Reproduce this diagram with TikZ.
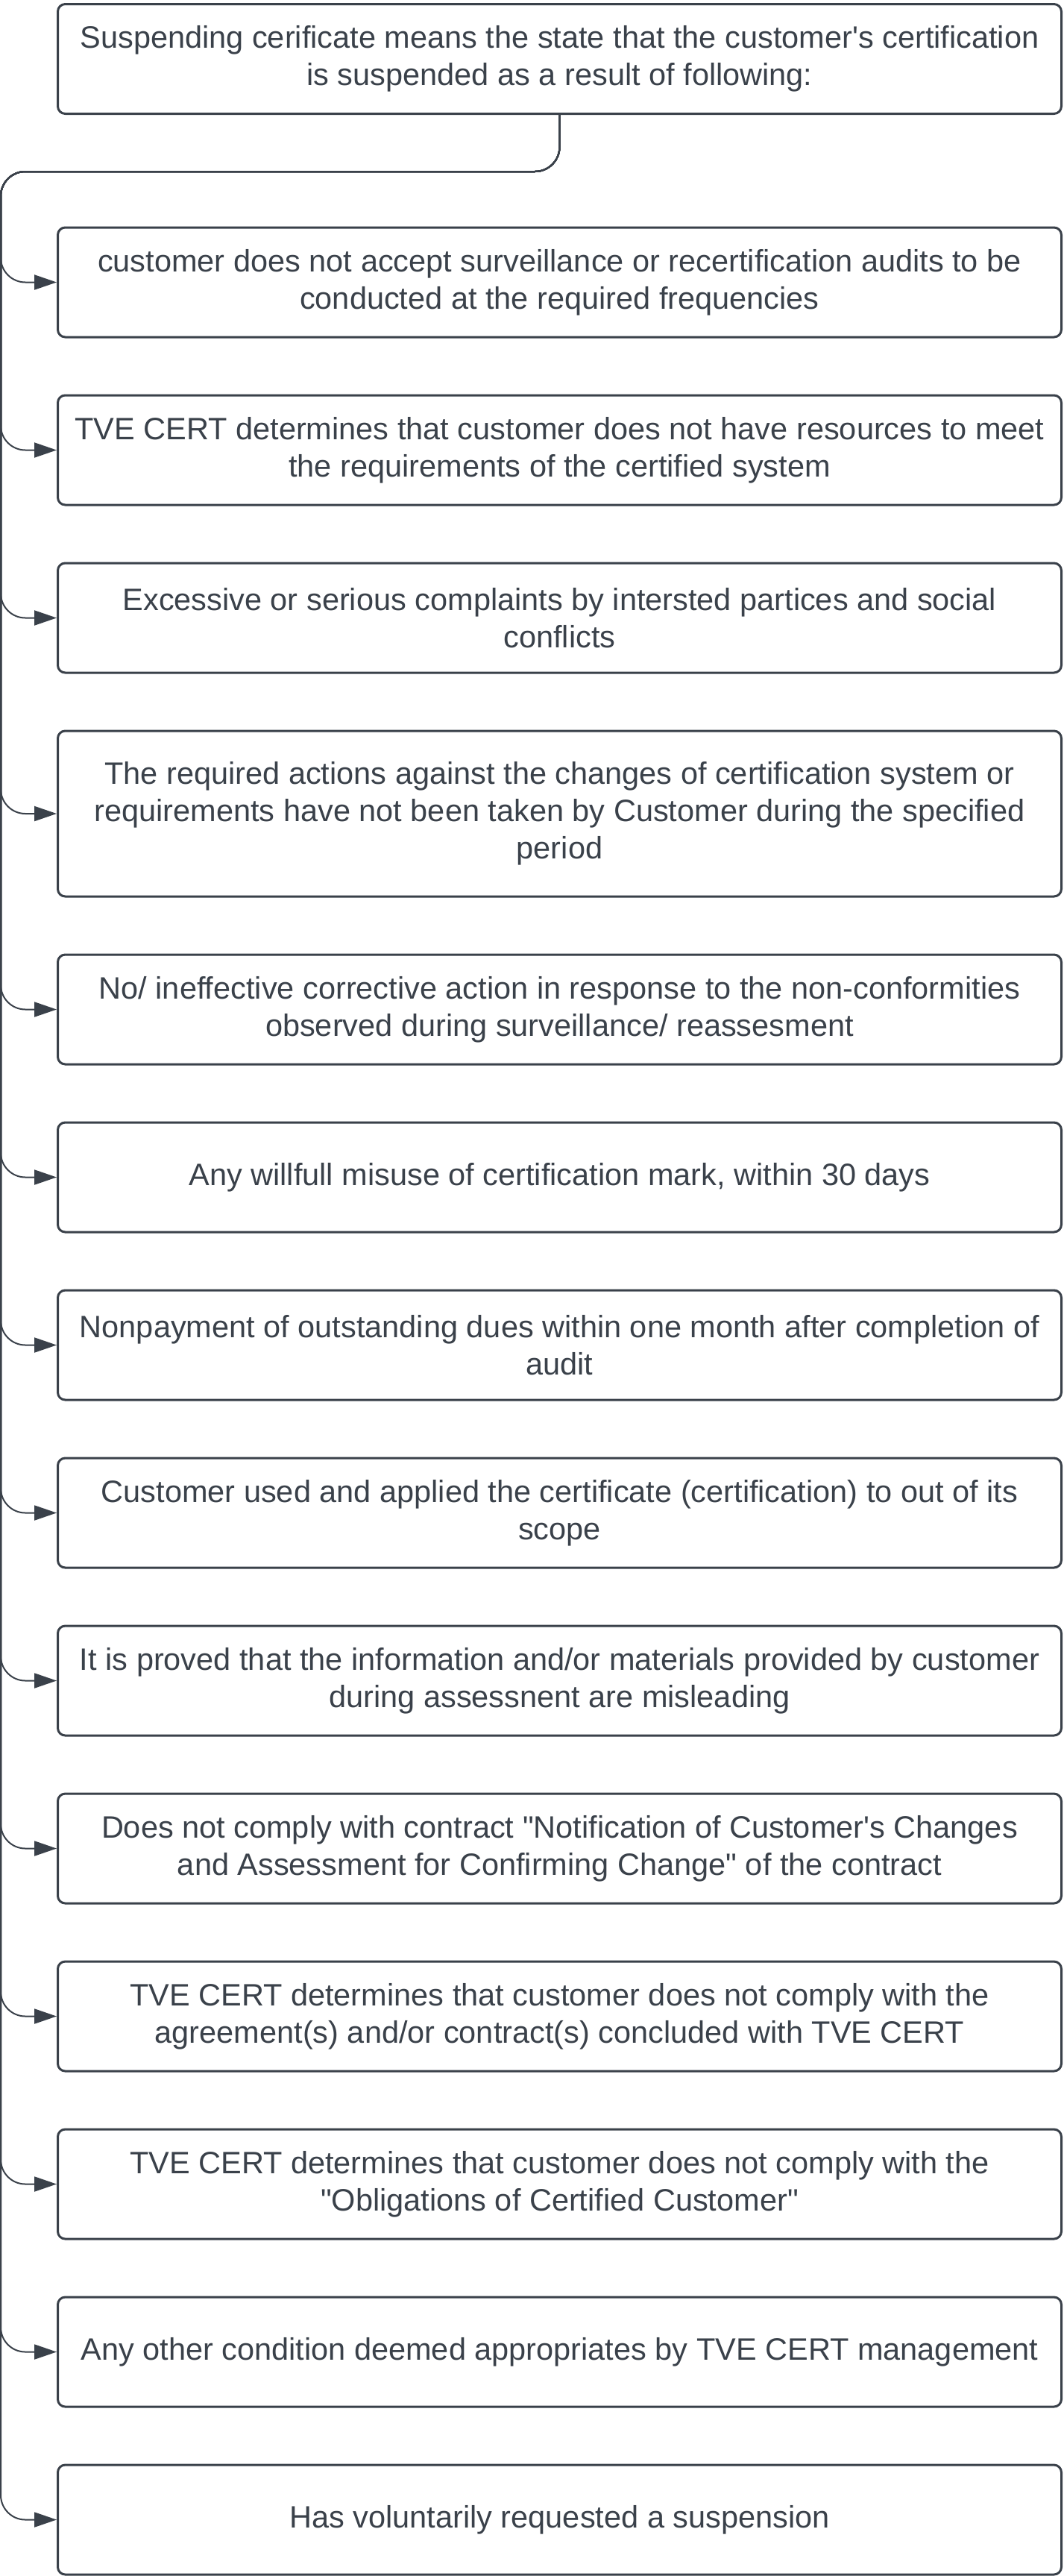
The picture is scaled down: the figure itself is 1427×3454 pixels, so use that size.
\documentclass[tikz,border=0pt]{standalone}
\usepackage{fontspec}
\newfontfamily\lsans{Liberation Sans}
\usetikzlibrary{arrows.meta}
\definecolor{lc}{HTML}{3A414A}
\definecolor{tc}{HTML}{3A414A}
\tikzset{
  box/.style={draw=lc, line width=3pt, rounded corners=10pt, fill=white,
    minimum width=1346pt, minimum height=147pt, align=center, text=tc,
    inner sep=0pt, font=\lsans\fontsize{41.5}{50}\selectfont},
  tallbox/.style={box, minimum height=222pt},
  conn/.style={draw=lc, line width=2pt, rounded corners=33pt,
    -{Triangle[length=30pt,width=20pt]}},
}
\begin{document}
\begin{tikzpicture}[x=1pt,y=-1pt]
\useasboundingbox (0,0) rectangle (1427,3454);
\node[box] (b1) at (750.5,79) {Suspending cerificate means the state that the customer's certification\\is suspended as a result of following:};
\node[box] (b2) at (750.5,378.5) {customer does not accept surveillance or recertification audits to be\\conducted at the required frequencies};
\node[box] (b3) at (750.5,603.5) {TVE CERT determines that customer does not have resources to meet\\the requirements of the certified system};
\node[box] (b4) at (750.5,828.5) {Excessive or serious complaints by intersted partices and social\\conflicts};
\node[tallbox] (b5) at (750.5,1091) {The required actions against the changes of certification system or\\requirements have not been taken by Customer during the specified\\period};
\node[box] (b6) at (750.5,1353.5) {No/ ineffective corrective action in response to the non-conformities\\observed during surveillance/ reassesment};
\node[box] (b7) at (750.5,1578.5) {Any willfull misuse of certification mark, within 30 days};
\node[box] (b8) at (750.5,1803.5) {Nonpayment of outstanding dues within one month after completion of\\audit};
\node[box] (b9) at (750.5,2028.5) {Customer used and applied the certificate (certification) to out of its\\scope};
\node[box] (b10) at (750.5,2253.5) {It is proved that the information and/or materials provided by customer\\during assessnent are misleading};
\node[box] (b11) at (750.5,2478.5) {Does not comply with contract "Notification of Customer's Changes\\and Assessment for Confirming Change" of the contract};
\node[box] (b12) at (750.5,2703.5) {TVE CERT determines that customer does not comply with the\\agreement(s) and/or contract(s) concluded with TVE CERT};
\node[box] (b13) at (750.5,2928.5) {TVE CERT determines that customer does not comply with the\\"Obligations of Certified Customer"};
\node[box] (b14) at (750.5,3153.5) {Any other condition deemed appropriates by TVE CERT management};
\node[box] (b15) at (750.5,3378.5) {Has voluntarily requested a suspension};
\coordinate (rail) at (1,230);
\foreach \k in {2,...,15}{
  \draw[conn] (b1.south) |- (rail) |- (b\k.west);
}
\end{tikzpicture}
\end{document}
